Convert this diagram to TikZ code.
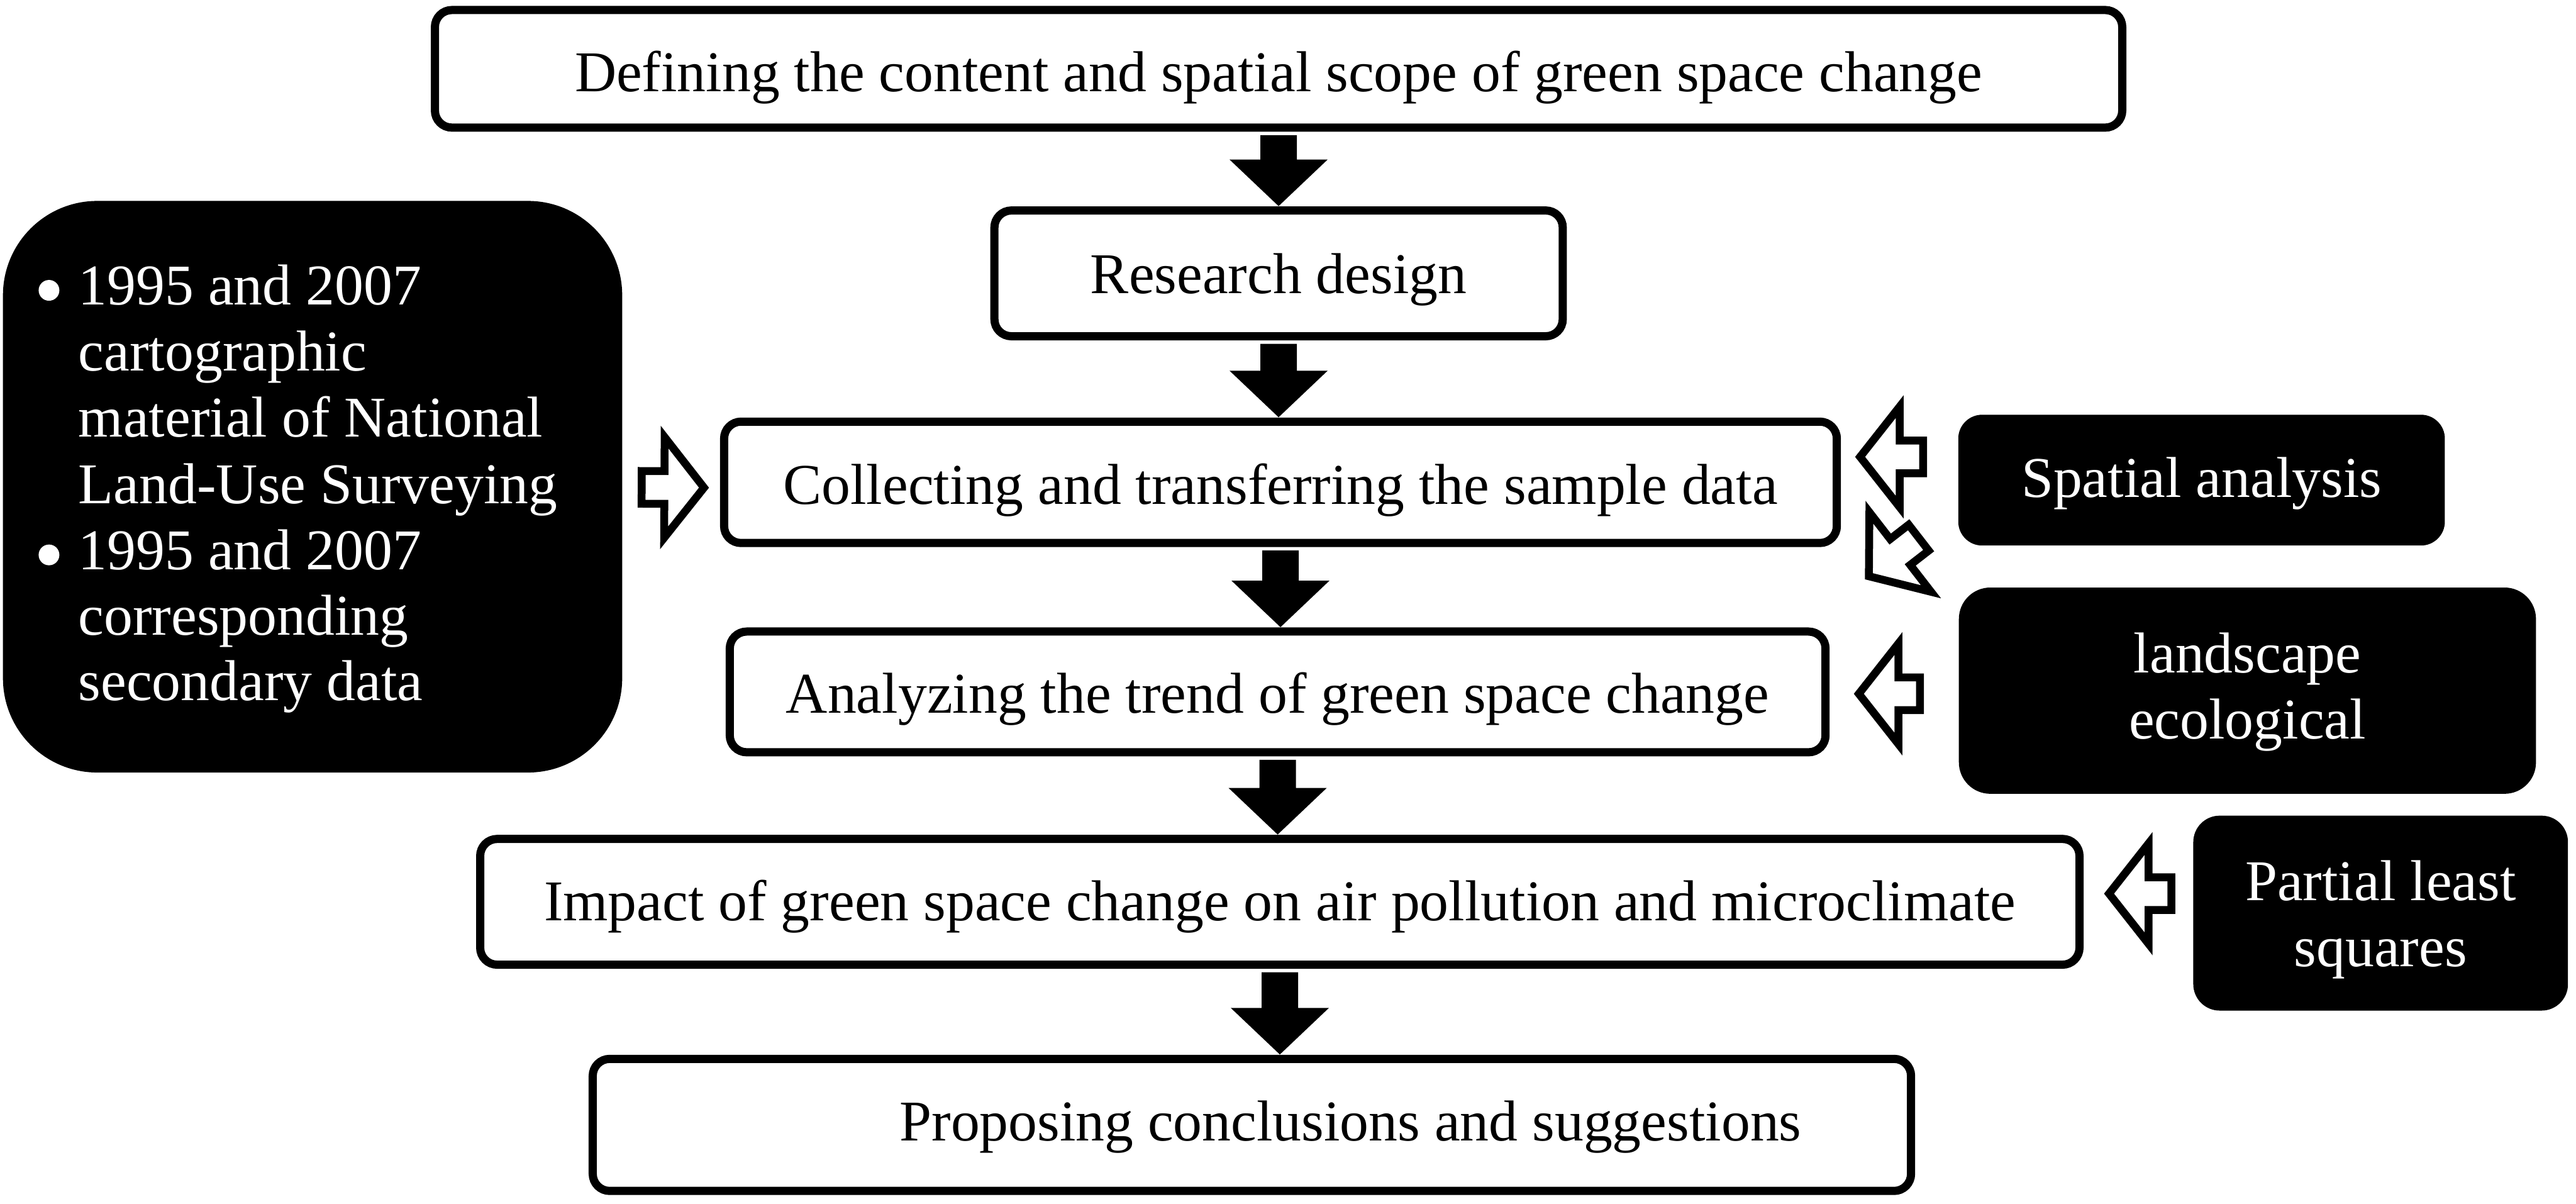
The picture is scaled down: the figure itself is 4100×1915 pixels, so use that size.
\documentclass[tikz,border=0pt]{standalone}
\usepackage{fontspec}
\setmainfont{Liberation Serif}
\usetikzlibrary{calc}
\tikzset{
  txt/.style={font=\fontsize{26.1pt}{29.9pt}\selectfont, inner sep=0pt, outer sep=0pt},
  wbox/.style={txt, draw=black, fill=white, line width=0.13cm, rounded corners=0.27cm, text depth=0pt},
  bbox/.style={fill=black, draw=none, inner sep=0pt, outer sep=0pt},
  wtxt/.style={txt, text=white, anchor=base},
  warrow/.style={draw=black, fill=white, line width=0.125cm, line join=miter},
  karrow/.style={fill=black, draw=none},
}
% #1 style, #2 tail, #3 tip, #4 shaft half width, #5 head half width, #6 head length
\newcommand{\blockarrow}[6]{%
  \coordinate (tA) at (#2);
  \coordinate (tB) at (#3);
  \coordinate (tH) at ($(tB)!#6!(tA)$);
  \path[#1] ($(tA)!#4!90:(tB)$) -- ($(tH)!#4!90:(tB)$) -- ($(tH)!#5!90:(tB)$) -- (tB)
     -- ($(tH)!#5!-90:(tB)$) -- ($(tH)!#4!-90:(tB)$) -- ($(tA)!#4!-90:(tB)$) -- cycle;
}
\newcommand{\downblk}[2]{%
  \blockarrow{karrow}{$(#1.south)+(0,12)$}{$(#1.south |- #2.north)+(0,-7)$}{0.29cm}{0.78cm}{0.74cm}%
}
\begin{document}
\begin{tikzpicture}[x=0.01cm,y=-0.01cm]
\useasboundingbox (0,0) rectangle (4100,1915);

% main white boxes
\node[wbox, minimum width=26.84cm, minimum height=1.87cm, text height=0.73cm] (top) at (2035,109.5)
  {Defining the content and spatial scope of green space change};
\node[wbox, minimum width=9.04cm, minimum height=2.00cm, text height=0.64cm] (research) at (2035,435)
  {Research design};
\node[wbox, minimum width=17.70cm, minimum height=1.93cm, text height=0.69cm] (collect) at (2038,767.5)
  {Collecting and transferring the sample data};
\node[wbox, minimum width=17.43cm, minimum height=1.92cm, text height=0.68cm] (analyze) at (2033.5,1101)
  {Analyzing the trend of green space change};
\node[wbox, minimum width=25.44cm, minimum height=2.00cm, text height=0.60cm] (impact) at (2037,1435)
  {Impact of green space change on air pollution and microclimate};
\node[wbox, minimum width=20.97cm, minimum height=2.10cm, text height=0.50cm] (propose) at (1992.5,1790)
  {\hspace*{3.14cm}Proposing conclusions and suggestions};

% black boxes
\node[bbox, rounded corners=1.5cm, minimum width=9.85cm, minimum height=9.09cm] (left) at (497.5,774.5) {};
\node[bbox, rounded corners=0.38cm, minimum width=7.74cm, minimum height=2.08cm] (spatial) at (3504,764) {};
\node[bbox, rounded corners=0.50cm, minimum width=9.18cm, minimum height=3.28cm] (landscape) at (3577,1099) {};
\node[bbox, rounded corners=0.42cm, minimum width=5.96cm, minimum height=3.10cm] (pls) at (3789,1453) {};

% texts in black boxes
\node[circle, fill=white, inner sep=0pt, minimum size=0.33cm] (bul1) at (78,462) {};
\node[circle, fill=white, inner sep=0pt, minimum size=0.33cm] (bul2) at (78,883) {};
\node[wtxt, anchor=base west] (l1) at (125,485) {1995 and 2007};
\node[wtxt, anchor=base west] (l2) at (125,590) {cartographic};
\node[wtxt, anchor=base west] (l3) at (125,695) {material of National};
\node[wtxt, anchor=base west] (l4) at (125,801) {Land-Use Surveying};
\node[wtxt, anchor=base west] (l5) at (125,906) {1995 and 2007};
\node[wtxt, anchor=base west] (l6) at (125,1010) {corresponding};
\node[wtxt, anchor=base west] (l7) at (125,1115) {secondary data};

\node[wtxt] (st) at (3504,791) {Spatial analysis};
\node[wtxt] (ls1) at (3577,1071) {landscape};
\node[wtxt] (ls2) at (3577,1176) {ecological};
\node[wtxt] (pl1) at (3789,1433) {Partial least};
\node[wtxt] (pl2) at (3789,1538) {squares};

% black down arrows
\downblk{top}{research}
\downblk{research}{collect}
\downblk{collect}{analyze}
\downblk{analyze}{impact}
\downblk{impact}{propose}

% white outlined arrows
\blockarrow{warrow}{$(left.east)+(31,1)$}{$(collect.west)+(-32,8.5)$}{0.26cm}{0.80cm}{0.63cm}
\blockarrow{warrow}{$(spatial.west)+(-56,-37)$}{$(collect.east)+(37,-40.5)$}{0.26cm}{0.80cm}{0.63cm}
\blockarrow{warrow}{$(landscape.west)+(-62,5)$}{$(analyze.east)+(53,3)$}{0.26cm}{0.80cm}{0.63cm}
\blockarrow{warrow}{$(pls.west)+(-35,-31)$}{$(impact.east)+(47,-13)$}{0.26cm}{0.80cm}{0.63cm}
\blockarrow{warrow}{$(spatial.south west)+(-63,-12.5)$}{$(analyze.north east)+(69,-88)$}{0.26cm}{0.80cm}{0.63cm}
\end{tikzpicture}
\end{document}
